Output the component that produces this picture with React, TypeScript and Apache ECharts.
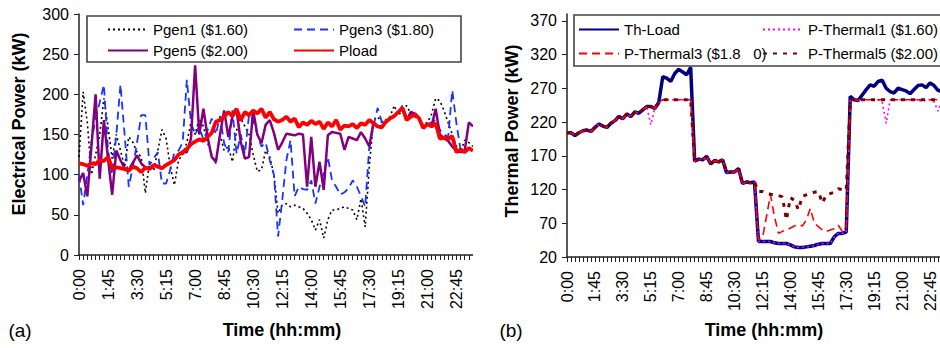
import React, { useEffect, useRef } from "react";
import * as echarts from "echarts";

const FONT = "'Liberation Sans', Arial, sans-serif";

const timeLabels = [
  "0:00","0:15","0:30","0:45","1:00","1:15","1:30","1:45","2:00","2:15","2:30","2:45",
  "3:00","3:15","3:30","3:45","4:00","4:15","4:30","4:45","5:00","5:15","5:30","5:45",
  "6:00","6:15","6:30","6:45","7:00","7:15","7:30","7:45","8:00","8:15","8:30","8:45",
  "9:00","9:15","9:30","9:45","10:00","10:15","10:30","10:45","11:00","11:15","11:30","11:45",
  "12:00","12:15","12:30","12:45","13:00","13:15","13:30","13:45","14:00","14:15","14:30","14:45",
  "15:00","15:15","15:30","15:45","16:00","16:15","16:30","16:45","17:00","17:15","17:30","17:45",
  "18:00","18:15","18:30","18:45","19:00","19:15","19:30","19:45","20:00","20:15","20:30","20:45",
  "21:00","21:15","21:30","21:45","22:00","22:15","22:30","22:45","23:00","23:15","23:30","23:45",
];

// (a) electrical power, kW
const pgen1 = [
  122,203,165,100,125,150,195,160,120,150,
  130,110,147,140,128,122,77,115,105,130,
  156,145,110,87,118,125,140,165,150,170,
  160,140,125,114,150,130,135,116,155,170,
  160,150,125,104,106,130,122,100,52,62,
  64,60,62,60,58,52,44,31,44,21,
  44,56,56,58,60,58,56,44,70,35,
  110,168,172,165,168,172,186,174,180,186,
  176,172,168,162,165,175,195,192,180,165,
  150,135,128,143,140,135,
];
const pgen3 = [
  100,62,100,140,170,190,212,130,100,150,
  212,150,85,110,140,174,174,112,120,128,
  89,89,106,128,130,140,218,165,150,160,
  143,155,170,150,173,139,128,180,126,150,
  126,175,168,150,135,140,118,100,23,68,
  118,143,73,85,82,81,93,64,85,102,
  122,93,85,75,78,83,93,85,73,60,
  135,160,183,166,166,170,173,178,186,170,
  174,176,170,160,163,165,168,156,150,147,
  205,164,131,128,133,130,
];
const pgen5 = [
  92,102,73,135,200,95,168,120,75,130,
  118,108,106,115,124,114,109,107,112,110,
  108,112,115,118,125,128,128,145,236,150,
  182,147,122,116,150,180,147,172,180,141,
  120,122,180,150,139,162,168,152,131,140,
  151,150,149,151,150,85,147,85,116,81,
  149,153,152,151,131,147,145,143,153,145,
  135,165,160,159,166,170,173,178,183,168,
  178,176,170,158,163,160,182,150,145,142,
  135,130,128,130,165,160,
];
const pload = [
  114,113,111,114,113,118,117,122,108,109,
  108,107,105,110,108,103,109,107,112,110,
  108,112,115,118,125,128,132,138,141,144,
  142,147,152,166,168,172,178,173,182,168,
  178,174,180,176,182,171,178,169,166,168,
  172,166,170,159,165,162,167,163,166,157,
  165,160,168,156,161,160,163,158,164,162,
  168,164,160,159,166,170,173,178,183,168,
  172,175,170,158,163,160,164,145,146,144,
  148,128,131,128,133,130,
];

// (b) thermal power, kW
const thLoad = [
  204,204,200,204,207,208,206,212,217,214,
  212,218,222,228,225,232,228,235,233,238,
  243,243,240,249,287,285,280,292,298,294,
  290,301,162,165,164,169,158,163,161,164,
  145,146,146,151,129,131,130,131,43,43,
  43,43,41,40,40,40,38,35,34,34,
  35,36,37,39,40,40,40,50,55,55,
  57,258,253,252,260,268,275,273,280,282,
  270,265,263,270,268,266,262,268,274,275,
  271,278,274,267,265,263,
];
const pThermal1 = [
  204,204,200,204,207,208,206,212,217,214,
  212,218,222,228,225,232,228,235,233,238,
  243,216,240,249,253,253,253,253,253,253,
  253,253,162,165,164,169,158,163,161,164,
  145,146,146,151,129,131,130,131,43,43,
  43,43,41,40,40,40,38,35,34,34,
  35,36,37,39,40,40,40,50,55,55,
  57,253,253,252,253,253,253,253,253,250,
  218,253,253,253,253,253,253,253,253,250,
  253,253,250,236,253,253,
];
const pThermal3 = [
  204,204,200,204,207,208,206,212,217,214,
  212,218,222,228,225,232,228,235,233,238,
  243,243,240,249,253,253,253,253,253,253,
  253,253,162,165,164,169,158,163,161,164,
  145,146,146,151,129,131,130,131,46,48,
  80,112,80,55,58,60,63,66,68,66,
  75,92,70,65,60,58,60,62,67,58,
  60,253,253,252,253,253,253,253,253,253,
  253,253,253,253,253,253,253,253,253,253,
  253,253,253,253,253,253,
];
const pThermal5 = [
  204,204,200,204,207,208,206,212,217,214,
  212,218,222,228,225,232,228,235,233,238,
  243,243,240,249,253,253,253,253,253,253,
  253,253,162,165,164,169,158,163,161,164,
  145,146,146,151,129,131,130,131,117,117,
  115,113,112,111,109,75,108,104,90,110,
  112,114,116,117,100,112,114,116,121,120,
  119,253,253,252,253,253,253,253,253,253,
  253,253,253,253,253,253,253,253,253,253,
  253,253,253,253,253,253,
];

const yTicksLeft = [0, 50, 100, 150, 200, 250, 300];
const yTicksRight = [20, 70, 120, 170, 220, 270, 320, 370];

const names = {
  g1: "Pgen1 ($1.60)",
  g3: "Pgen3 ($1.80)",
  g5: "Pgen5 ($2.00)",
  pl: "Pload",
  th: "Th-Load",
  t1: "P-Thermal1 ($1.60)",
  t3: "P-Thermal3 ($1.8\u00a0\u00a0\u00a00)",
  t5: "P-Thermal5 ($2.00)",
};

function xAxisFor(gridIndex: number) {
  return {
    type: "category",
    gridIndex,
    data: timeLabels,
    boundaryGap: false,
    axisLine: { show: true, lineStyle: { color: "#222", width: 1.5 } },
    axisTick: { show: true, interval: 0, length: 5, lineStyle: { color: "#222", width: 1 } },
    axisLabel: {
      interval: 6,
      rotate: 90,
      fontSize: 16,
      color: "#000",
      fontFamily: FONT,
      margin: 14,
      hideOverlap: false,
    },
    splitLine: { show: false },
  };
}

const legendBase = {
  orient: "vertical",
  itemWidth: 40,
  itemHeight: 14,
  padding: 0,
  selectedMode: false,
  itemStyle: { opacity: 0 },
  textStyle: { fontSize: 15, color: "#000", fontFamily: FONT },
};

export default function App() {
  const ref = useRef<HTMLDivElement>(null);
  useEffect(() => {
    if (!ref.current) return;
    const chart = echarts.init(ref.current, null, { renderer: "svg" });
    const line = (
      name: string,
      data: number[],
      idx: number,
      color: string,
      width: number,
      type: any
    ) => ({
      name,
      type: "line",
      xAxisIndex: idx,
      yAxisIndex: idx,
      data,
      symbol: "none",
      showSymbol: false,
      clip: true,
      lineStyle: { color, width, type },
      itemStyle: { color },
      emphasis: { disabled: true },
    });
    chart.setOption({
      animation: false,
      backgroundColor: "#fff",
      textStyle: { fontFamily: FONT },
      grid: [
        { left: 79, top: 14, width: 394, bottom: 93, containLabel: false, outerBoundsMode: "none" },
        { left: 567, top: 14, width: 379, bottom: 91, containLabel: false, outerBoundsMode: "none" },
      ],
      xAxis: [xAxisFor(0), xAxisFor(1)],
      yAxis: [
        {
          type: "value",
          gridIndex: 0,
          min: 0,
          max: 300,
          interval: 50,
          axisLine: { show: true, lineStyle: { color: "#222", width: 1.5 } },
          axisTick: { show: true, length: 5, customValues: yTicksLeft, lineStyle: { color: "#222" } },
          axisLabel: { fontSize: 16, color: "#000", fontFamily: FONT, margin: 10, customValues: yTicksLeft },
          splitLine: { show: false },
        },
        {
          type: "value",
          gridIndex: 1,
          min: 20,
          max: 380,
          axisLine: { show: true, lineStyle: { color: "#222", width: 1.5 } },
          axisTick: { show: true, length: 5, customValues: yTicksRight, lineStyle: { color: "#222" } },
          axisLabel: { fontSize: 16, color: "#000", fontFamily: FONT, margin: 10, customValues: yTicksRight },
          splitLine: { show: false },
        },
      ],
      legend: [
        { ...legendBase, left: 107, top: 22, itemGap: 6, data: [names.g1, names.g5] },
        { ...legendBase, left: 293, top: 22, itemGap: 6, data: [names.g3, names.pl] },
        { ...legendBase, left: 578, top: 22, itemGap: 9, data: [names.th, names.t3] },
        { ...legendBase, left: 762, top: 22, itemGap: 9, data: [names.t1, names.t5] },
      ],
      series: [
        line(names.g1, pgen1, 0, "#000000", 1.6, [2, 3]),
        line(names.g3, pgen3, 0, "#1a33ff", 1.8, [8, 5]),
        line(names.g5, pgen5, 0, "#800080", 2.5, "solid"),
        line(names.pl, pload, 0, "#ff0000", 3.8, "solid"),
        line(names.th, thLoad, 1, "#000080", 3.5, "solid"),
        line(names.t1, pThermal1, 1, "#ff00ff", 1.6, [2, 3]),
        line(names.t3, pThermal3, 1, "#ff0000", 1.6, [8, 5]),
        line(names.t5, pThermal5, 1, "#800000", 3, [4, 6]),
      ],
      graphic: [
        {
          type: "rect",
          z: 100,
          shape: { x: 473, y: 0, width: 9, height: 275 },
          style: { fill: "#ffffff" },
        },
        {
          type: "rect",
          z: 1,
          shape: { x: 87, y: 16, width: 374, height: 46 },
          style: { fill: "none", stroke: "#444", lineWidth: 1.6 },
        },
        {
          type: "rect",
          z: 1,
          shape: { x: 574, y: 15, width: 380, height: 51 },
          style: { fill: "none", stroke: "#444", lineWidth: 1.6 },
        },
        {
          type: "text",
          x: 19,
          y: 124,
          rotation: Math.PI / 2,
          style: { text: "Electrical Power (kW)", font: `bold 18px ${FONT}`, fill: "#000", align: "center", verticalAlign: "middle" },
        },
        {
          type: "text",
          x: 512,
          y: 131,
          rotation: Math.PI / 2,
          style: { text: "Thermal Power (kW)", font: `bold 18px ${FONT}`, fill: "#000", align: "center", verticalAlign: "middle" },
        },
        {
          type: "text",
          x: 282,
          y: 330,
          style: { text: "Time (hh:mm)", font: `bold 18px ${FONT}`, fill: "#000", align: "center", verticalAlign: "middle" },
        },
        {
          type: "text",
          x: 764,
          y: 330,
          style: { text: "Time (hh:mm)", font: `bold 18px ${FONT}`, fill: "#000", align: "center", verticalAlign: "middle" },
        },
        {
          type: "text",
          x: 20,
          y: 330,
          style: { text: "(a)", font: `19px ${FONT}`, fill: "#000", align: "center", verticalAlign: "middle" },
        },
        {
          type: "text",
          x: 511,
          y: 330,
          style: { text: "(b)", font: `19px ${FONT}`, fill: "#000", align: "center", verticalAlign: "middle" },
        },
      ],
    });
    return () => chart.dispose();
  }, []);
  return (
    <div
      style={{ position: "fixed", left: 0, top: 0, width: 940, height: 348, background: "#fff", overflow: "hidden" }}
    >
      <div ref={ref} style={{ width: 940, height: 348 }} />
    </div>
  );
}
